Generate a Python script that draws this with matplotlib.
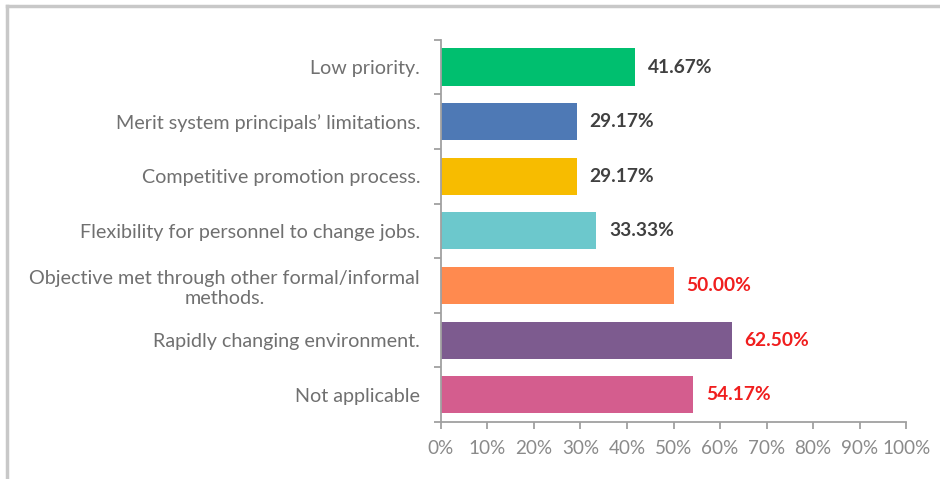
import matplotlib.pyplot as plt
import numpy as np
from matplotlib.ticker import FixedLocator, PercentFormatter

plt.rcParams['font.family'] = ['Lato', 'DejaVu Sans']

categories = [
    "Low priority.",
    "Merit system principals\u2019 limitations.",
    "Competitive promotion process.",
    "Flexibility for personnel to change jobs.",
    "Objective met through other formal/informal\nmethods.",
    "Rapidly changing environment.",
    "Not applicable",
]
values = [41.67, 29.17, 29.17, 33.33, 50.00, 62.50, 54.17]
colors = ["#00BF6F", "#4E79B5", "#F7BC00", "#6CC8CC", "#FF8A4F", "#7D5B8F", "#D45D8E"]
label_colors = ["#404040"] * 4 + ["#F01E1E"] * 3

fig = plt.figure(figsize=(9.4, 4.79), dpi=100)
ax = fig.add_axes([0.469, 0.119, 0.495, 0.798])

y = np.arange(len(categories))
ax.barh(y, values, height=0.68, color=colors)
ax.set_ylim(len(categories) - 0.5, -0.5)
ax.set_xlim(0, 100)

for yi, v, c in zip(y, values, label_colors):
    ax.text(v + 2.8, yi, f"{v:.2f}%", va="center", ha="left",
            fontsize=13.8, fontweight="bold", color=c)

ax.set_yticks(y)
ax.set_yticklabels(categories, fontsize=14.2, color="#707070", multialignment="center")
ax.yaxis.set_minor_locator(FixedLocator(np.arange(-0.5, len(categories), 1)))
ax.tick_params(axis="y", which="major", length=0, pad=15)
ax.tick_params(axis="y", which="minor", length=5, width=1.3, color="#A0A0A0")

ax.set_xticks(np.arange(0, 101, 10))
ax.xaxis.set_major_formatter(PercentFormatter(decimals=0))
ax.tick_params(axis="x", length=5, width=1.3, color="#A0A0A0", labelsize=13.6,
               labelcolor="#8A8A8A", pad=8)

for side in ("top", "right"):
    ax.spines[side].set_visible(False)
for side in ("left", "bottom"):
    ax.spines[side].set_color("#A0A0A0")
    ax.spines[side].set_linewidth(1.3)

# outer frame (top and left edges only)
fig.add_artist(plt.Line2D([0.0075, 1.0], [0.9875, 0.9875], color="#C8C8C8", lw=2.5,
                          transform=fig.transFigure))
fig.add_artist(plt.Line2D([0.0075, 0.0075], [0.0, 0.9875], color="#C8C8C8", lw=2.5,
                          transform=fig.transFigure))

fig.savefig("out.png", dpi=100)
